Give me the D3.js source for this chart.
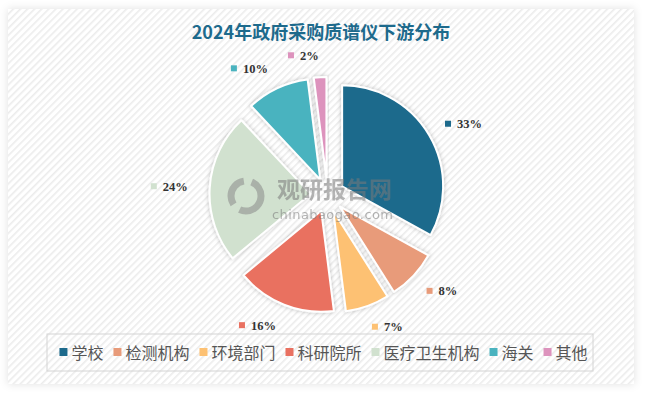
<!DOCTYPE html>
<html>
<head>
<meta charset="utf-8">
<script src="https://cdn.jsdelivr.net/npm/d3@7"></script>
<style>
  body { margin: 0; background: #fff; }
  svg { display: block; }
</style>
</head>
<body>
<div id="chart"></div>
<script>
// data
var categories = ["学校", "检测机构", "环境部门", "科研院所", "医疗卫生机构", "海关", "其他"];
var shares = [33, 8, 7, 16, 24, 10, 2];
var colors = ["#1d6a8c", "#e89b7a", "#fdc173", "#e97161", "#d1e1cf", "#4ab3bf", "#dd93bd"];
var title = "2024年政府采购质谱仪下游分布";

var W = 645, H = 393;

var svg = d3.select("#chart").append("svg")
  .attr("width", W)
  .attr("height", H);

var defs = svg.append("defs");

// diagonal hatch background
var pat = defs.append("pattern")
  .attr("id", "hatch")
  .attr("patternUnits", "userSpaceOnUse")
  .attr("width", 5).attr("height", 5)
  .attr("patternTransform", "rotate(45)");
pat.append("rect").attr("width", 5).attr("height", 5).attr("fill", "#fff");
pat.append("rect").attr("x", 0).attr("width", 1.6).attr("height", 5).attr("fill", "#ececec");

var cardShadow = defs.append("filter").attr("id", "cardShadow")
  .attr("x", "-5%").attr("y", "-5%").attr("width", "110%").attr("height", "110%");
cardShadow.append("feDropShadow")
  .attr("dx", 0).attr("dy", 0).attr("stdDeviation", 4)
  .attr("flood-color", "#000").attr("flood-opacity", 0.12);

var sliceShadow = defs.append("filter").attr("id", "sliceShadow")
  .attr("x", "-20%").attr("y", "-20%").attr("width", "140%").attr("height", "140%");
sliceShadow.append("feDropShadow")
  .attr("dx", 0).attr("dy", 0).attr("stdDeviation", 2)
  .attr("flood-color", "#000").attr("flood-opacity", 0.25);

// card
svg.append("rect")
  .attr("x", 8).attr("y", 9)
  .attr("width", 626).attr("height", 375)
  .attr("fill", "#fff")
  .attr("filter", "url(#cardShadow)");
svg.append("rect")
  .attr("x", 8).attr("y", 9)
  .attr("width", 626).attr("height", 375)
  .attr("fill", "url(#hatch)");

// title
svg.append("text")
  .attr("x", 321).attr("y", 39)
  .attr("text-anchor", "middle")
  .style("font-family", "'Noto Sans CJK SC', sans-serif")
  .style("font-size", "18px")
  .style("font-weight", "bold")
  .style("fill", "#1d6a8c")
  .text(title);

// pie
var cx = 327.5, cy = 195, radius = 101, explode = 17, labelR = 140;

var pie = d3.pie().sort(null).value(function(d) { return d; });
var arcs = pie(shares);
var arc = d3.arc().innerRadius(0).outerRadius(radius);

var pieGroup = svg.append("g").attr("transform", "translate(" + cx + "," + cy + ")");

function mid(d) { return (d.startAngle + d.endAngle) / 2; }

pieGroup.selectAll("path.slice")
  .data(arcs)
  .enter()
  .append("path")
    .attr("class", "slice")
    .attr("d", arc)
    .attr("transform", function(d) {
      var a = mid(d);
      return "translate(" + (Math.sin(a) * explode) + "," + (-Math.cos(a) * explode) + ")";
    })
    .attr("fill", function(d, i) { return colors[i]; })
    .attr("stroke", "#fff")
    .attr("stroke-width", 2)
    .attr("stroke-linejoin", "round")
    .attr("filter", "url(#sliceShadow)");

// watermark
var wm = svg.append("g").style("opacity", 0.55);
wm.append("circle").attr("cx", 246).attr("cy", 196).attr("r", 15)
  .attr("fill", "none").attr("stroke", "#8a8a8a").attr("stroke-width", 7)
  .attr("stroke-dasharray", "30 8");
wm.append("text")
  .attr("x", 277).attr("y", 198)
  .style("font-family", "'Noto Sans CJK SC', sans-serif")
  .style("font-size", "23px").style("font-weight", "bold")
  .style("fill", "#7a7a7a")
  .text("观研报告网");
wm.append("text")
  .attr("x", 272).attr("y", 219)
  .attr("textLength", 121)
  .style("font-family", "'DejaVu Sans', sans-serif")
  .style("font-size", "13px")
  .style("fill", "#7a7a7a")
  .text("chinabaogao.com");

// labels: small square + percentage
var labels = pieGroup.selectAll("g.lbl")
  .data(arcs)
  .enter()
  .append("g")
    .attr("class", "lbl");

labels.each(function(d, i) {
  var g = d3.select(this);
  var a = mid(d);
  var px = Math.sin(a) * labelR, py = -Math.cos(a) * labelR;
  var right = a < Math.PI;
  var t = g.append("text")
    .attr("y", py + 4.5)
    .style("font-family", "'Liberation Serif', serif")
    .style("font-size", "12.5px")
    .style("font-weight", "bold")
    .style("fill", "#333")
    .text(shares[i] + "%");
  var tw = t.node().getComputedTextLength();
  var sq = 6, gap = 6;
  var sqx, tx;
  if (right) {
    sqx = px - sq / 2;
    tx = px + sq / 2 + gap;
  } else {
    tx = px - tw;
    sqx = tx - gap - sq;
  }
  t.attr("x", tx);
  g.append("rect")
    .attr("x", sqx).attr("y", py - sq / 2)
    .attr("width", sq).attr("height", sq)
    .attr("fill", colors[i]);
});

// legend
var legendBox = svg.append("rect")
  .attr("x", 47).attr("y", 334)
  .attr("width", 546).attr("height", 37)
  .attr("fill", "none")
  .attr("stroke", "#d4d4d4")
  .attr("stroke-width", 1);

var legend = svg.append("g");
var items = legend.selectAll("g.item")
  .data(categories)
  .enter()
  .append("g")
    .attr("class", "item");

var sqSize = 8, sqGap = 4, itemGap = 10;
var widths = [];
items.each(function(d, i) {
  var g = d3.select(this);
  g.append("rect")
    .attr("x", 0).attr("y", -sqSize / 2 - 1)
    .attr("width", sqSize).attr("height", sqSize)
    .attr("fill", colors[i]);
  var t = g.append("text")
    .attr("x", sqSize + sqGap).attr("y", 5.5)
    .style("font-family", "'Noto Sans CJK SC', sans-serif")
    .style("font-size", "16px")
    .style("fill", "#555")
    .text(d);
  widths.push(sqSize + sqGap + t.node().getComputedTextLength());
});
var total = d3.sum(widths) + itemGap * (widths.length - 1);
var lx = 323.5 - total / 2;
items.attr("transform", function(d, i) {
  var x = lx;
  lx += widths[i] + itemGap;
  return "translate(" + x + "," + 353 + ")";
});
</script>
</body>
</html>
